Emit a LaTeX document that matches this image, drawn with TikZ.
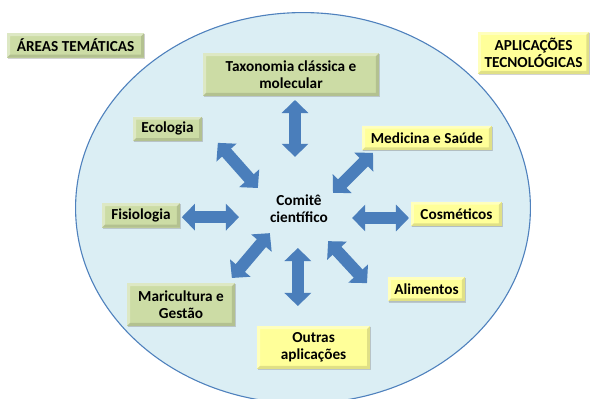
\documentclass[tikz,border=0pt]{standalone}
\usepackage{fontspec}
\setmainfont{Carlito}
\usetikzlibrary{positioning, arrows.meta, shadows}

\definecolor{ovalfill}{HTML}{DBEEF4}
\definecolor{ovaldraw}{HTML}{4F81BD}
\definecolor{arrowblue}{HTML}{4A7EBB}
\definecolor{areagreen}{HTML}{CCDCA5}
\definecolor{appyellow}{HTML}{FFFF99}

\begin{document}
\begin{tikzpicture}[
        font=\fontsize{15.2}{17}\selectfont\bfseries,
        bevel/.style={path picture={
            \fill[white, opacity=0.35] (path picture bounding box.south west) -- ++(3pt,3pt) |- ([shift={(-3pt,-3pt)}]path picture bounding box.north east) -- (path picture bounding box.north east) -| cycle;
            \fill[black, opacity=0.12] (path picture bounding box.south west) -- ++(3pt,3pt) -| ([shift={(-3pt,-3pt)}]path picture bounding box.north east) -- (path picture bounding box.north east) |- cycle;
        }},
        area/.style={fill=areagreen, bevel, align=center, inner sep=2pt, minimum height=0.86cm, drop shadow={shadow xshift=1pt, shadow yshift=-1.2pt, opacity=0.35}},
        appl/.style={area, fill=appyellow},
        dblarrow/.style={draw=arrowblue, line width=12pt, {Triangle[length=13pt, width=26pt]}-{Triangle[length=13pt, width=26pt]}}
    ]

    \useasboundingbox (-10.605, -6.685) rectangle (10.08, 7.28);

    % Big oval
    \draw[fill=ovalfill, draw=ovaldraw, line width=1.1pt] (0, 0) ellipse [x radius=7.96, y radius=6.84];

    % Corner labels
    \node[area, minimum width=4.8cm] (areas) at (-7.96, 5.69) {ÁREAS TEMÁTICAS};
    \node[appl, minimum width=3.9cm, minimum height=1.47cm] (aplicacoes) at (8.07, 5.43) {APLICAÇÕES \\ TECNOLÓGICAS};

    % Central node
    \node[align=center] (comite) at (-0.14, -0.03) {Comitê \\ científico};

    % Green boxes
    \node[area, minimum width=6.16cm, minimum height=1.5cm] (taxonomia) at (-0.42, 4.67) {Taxonomia clássica e \\ molecular};
    \node[area, minimum width=2.42cm] (ecologia) at (-4.74, 2.77) {Ecologia};
    \node[area, minimum width=2.73cm] (fisiologia) at (-5.67, -0.26) {Fisiologia};
    \node[area, minimum width=3.78cm, minimum height=1.5cm] (maricultura) at (-4.27, -3.38) {Maricultura e \\ Gestão};

    % Yellow boxes
    \node[appl, minimum width=4.55cm] (medicina) at (4.34, 2.45) {Medicina e Saúde};
    \node[appl, minimum width=3.19cm] (cosmeticos) at (5.37, -0.21) {Cosméticos};
    \node[appl, minimum width=2.7cm] (alimentos) at (4.32, -2.84) {Alimentos};
    \node[appl, minimum width=3.96cm, minimum height=1.5cm] (outras) at (0.37, -4.88) {Outras \\ aplicações};

    % Arrow ends
    \coordinate (taxonomia-a) at (-0.28, 3.78);
    \coordinate (taxonomia-b) at (-0.28, 1.79);
    \coordinate (ecologia-a) at (-2.98, 2.28);
    \coordinate (ecologia-b) at (-1.58, 0.70);
    \coordinate (fisiologia-a) at (-4.24, -0.32);
    \coordinate (fisiologia-b) at (-2.24, -0.32);
    \coordinate (maricultura-a) at (-2.49, -2.45);
    \coordinate (maricultura-b) at (-1.16, -0.88);
    \coordinate (medicina-a) at (2.45, 1.93);
    \coordinate (medicina-b) at (1.05, 0.53);
    \coordinate (cosmeticos-a) at (3.71, -0.35);
    \coordinate (cosmeticos-b) at (1.72, -0.35);
    \coordinate (alimentos-a) at (2.24, -2.63);
    \coordinate (alimentos-b) at (0.88, -1.16);
    \coordinate (outras-a) at (-0.18, -3.43);
    \coordinate (outras-b) at (-0.18, -1.40);

    % Double arrows
    \draw[dblarrow] (taxonomia-a) -- (taxonomia-b);
    \draw[dblarrow] (ecologia-a) -- (ecologia-b);
    \draw[dblarrow] (fisiologia-a) -- (fisiologia-b);
    \draw[dblarrow] (maricultura-a) -- (maricultura-b);
    \draw[dblarrow] (medicina-a) -- (medicina-b);
    \draw[dblarrow] (cosmeticos-a) -- (cosmeticos-b);
    \draw[dblarrow] (alimentos-a) -- (alimentos-b);
    \draw[dblarrow] (outras-a) -- (outras-b);

\end{tikzpicture}
\end{document}
